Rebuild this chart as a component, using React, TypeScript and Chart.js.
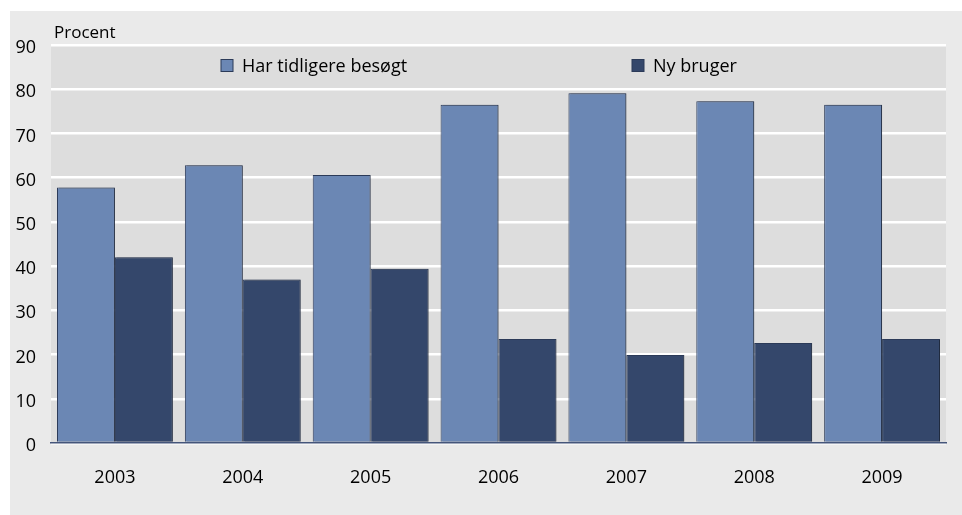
import React, { useEffect, useRef } from "react";
import { Chart, registerables } from "chart.js";

Chart.register(...registerables);

const years = ["2003", "2004", "2005", "2006", "2007", "2008", "2009"];
const previousVisitors = [57.8, 62.8, 60.6, 76.5, 79.1, 77.3, 76.5];
const newUsers = [42.0, 37.0, 39.4, 23.5, 19.9, 22.6, 23.5];
const seriesLabels = ["Har tidligere besøgt", "Ny bruger"];
const seriesColors = ["#6b87b4", "#34476b"];
const unitLabel = "Procent";
const yMin = 0;
const yMax = 90;
const yStep = 10;

const FONT = "'Open Sans', 'Noto Sans', sans-serif";

const backgroundPlugin = {
  id: "bgPlugin",
  beforeDraw(chart: any) {
    const { ctx, width, height, chartArea } = chart;
    ctx.save();
    ctx.fillStyle = "#ffffff";
    ctx.fillRect(0, 0, width, height);
    ctx.fillStyle = "#eaeaea";
    ctx.fillRect(10, 11, width - 10, height - 11);
    ctx.fillStyle = "#dddddd";
    ctx.fillRect(chartArea.left, chartArea.top, chartArea.right - chartArea.left, chartArea.bottom - chartArea.top);
    ctx.restore();
  },
  beforeDatasetsDraw(chart: any) {
    const ctx = chart.ctx;
    ctx.save();
    ctx.shadowColor = "rgba(0,0,0,0.28)";
    ctx.shadowOffsetX = 2;
    ctx.shadowOffsetY = 0;
    ctx.shadowBlur = 0;
  },
  afterDatasetsDraw(chart: any) {
    chart.ctx.restore();
  },
  afterDraw(chart: any) {
    const { ctx, chartArea } = chart;
    ctx.save();
    ctx.font = `17px ${FONT}`;
    ctx.fillStyle = "#000000";
    ctx.textBaseline = "alphabetic";
    ctx.textAlign = "left";
    ctx.fillText(unitLabel, 54, 38);
    const offsets = [170, 581];
    chart.data.datasets.forEach((ds: any, i: number) => {
      const x = chartArea.left + offsets[i];
      const y = 59.5;
      ctx.fillStyle = ds.backgroundColor;
      ctx.fillRect(x, y, 12, 12);
      ctx.strokeStyle = "#2b3a58";
      ctx.lineWidth = 1;
      ctx.strokeRect(x, y, 12, 12);
      ctx.fillStyle = "#000000";
      ctx.font = `18px ${FONT}`;
      ctx.textBaseline = "middle";
      ctx.fillText(ds.label, x + 21, 67);
    });
    ctx.restore();
  },
};

export default function App() {
  const ref = useRef<HTMLCanvasElement | null>(null);

  useEffect(() => {
    if (!ref.current) return;
    const chart = new Chart(ref.current, {
      type: "bar",
      data: {
        labels: years,
        datasets: [
          {
            label: seriesLabels[0],
            data: previousVisitors,
            backgroundColor: seriesColors[0],
            borderColor: "#2b3a58",
            borderWidth: 1,
            categoryPercentage: 0.906,
            barPercentage: 1,
          },
          {
            label: seriesLabels[1],
            data: newUsers,
            backgroundColor: seriesColors[1],
            borderColor: "#2b3a58",
            borderWidth: 1,
            categoryPercentage: 0.906,
            barPercentage: 1,
          },
        ],
      },
      options: {
        responsive: false,
        animation: false,
        devicePixelRatio: 1,
        layout: { padding: { left: 0, right: 16, top: 45, bottom: 0 } },
        plugins: {
          legend: { display: false },
          tooltip: { enabled: false },
          title: { display: false },
        },
        scales: {
          x: {
            grid: { display: false, drawTicks: false },
            border: { display: true, color: "#44557a", width: 1.5 },
            ticks: {
              color: "#000000",
              font: { family: FONT, size: 18 },
              padding: 24,
            },
            afterFit(scale: any) {
              scale.height = 72;
            },
          },
          y: {
            min: yMin,
            max: yMax,
            grid: { color: "#ffffff", lineWidth: 2.5, drawTicks: false },
            border: { display: false },
            ticks: {
              stepSize: yStep,
              color: "#000000",
              font: { family: FONT, size: 18 },
              padding: 15,
              labelOffset: 3,
            },
            afterFit(scale: any) {
              scale.width = 51;
            },
          },
        },
      },
      plugins: [backgroundPlugin],
    });
    return () => chart.destroy();
  }, []);

  return (
    <div style={{ position: "absolute", left: 0, top: 0, width: 962, height: 515 }}>
      <canvas ref={ref} width={962} height={515} style={{ display: "block" }} />
    </div>
  );
}
